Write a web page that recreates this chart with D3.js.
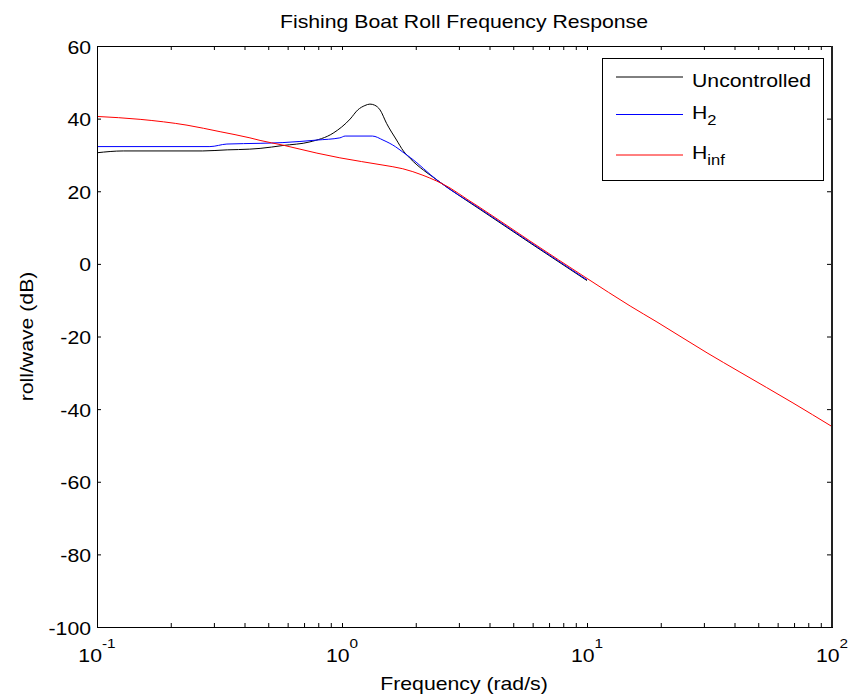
<!DOCTYPE html>
<html><head><meta charset="utf-8">
<script src="https://cdn.jsdelivr.net/npm/d3@7"></script>
<style>body{margin:0;background:#fff} text{font-family:"Liberation Sans",Arial,sans-serif;fill:#000}</style>
</head><body><svg id="c" width="850" height="697"></svg>
<script>
const title = "Fishing Boat Roll Frequency Response";
const xLabel = "Frequency (rad/s)";
const yLabel = "roll/wave (dB)";
const yTicks = [-100, -80, -60, -40, -20, 0, 20, 40, 60];
const xTickExponents = [-1, 0, 1, 2];

const uncFreq = [0.1, 0.128, 0.27, 0.34, 0.42, 0.463, 0.574, 0.74, 0.92, 1.08, 1.16, 1.24, 1.30, 1.36, 1.43, 1.52, 1.67, 1.78, 1.90, 2.44, 3.12, 3.66, 5.85, 10];
const uncDb   = [30.6, 31.1, 31.1, 31.4, 31.6, 31.8, 32.6, 33.6, 36.0, 39.9, 42.4, 43.6, 44.0, 43.7, 42.4, 38.7, 34.1, 31.1, 29.0, 23.1, 18.1, 15.0, 5.8, -4.6];

const h2Freq = [0.1, 0.289, 0.339, 0.463, 0.574, 0.79, 0.98, 1.03, 1.33, 1.47, 1.65, 1.77, 1.90, 2.44, 3.66, 5.85, 10];
const h2Db   = [32.3, 32.3, 33.0, 33.2, 33.4, 34.1, 34.7, 35.2, 35.2, 34.1, 32.3, 30.8, 29.3, 23.1, 15.2, 6.0, -4.4];

const hinfFreq = [0.1, 0.15, 0.233, 0.318, 0.421, 0.463, 0.574, 0.79, 0.98, 1.47, 1.77, 2.14, 2.76, 3.24, 3.66, 5.85, 10, 15, 19.3, 30.9, 42.1, 69.3, 100];
const hinfDb   = [40.6, 39.8, 38.2, 36.4, 34.7, 34.0, 32.7, 30.5, 29.2, 27.2, 26.2, 24.4, 20.9, 17.8, 15.5, 6.3, -4.0, -11.6, -16.0, -24.5, -29.8, -38.3, -44.8];

const seriesBase = ["Uncontrolled", "H", "H"];
const seriesSub  = ["", "2", "inf"];
const seriesColor = ["#000000", "#0000ff", "#ff0000"];

const SX = 1.18;
const svg = d3.select("#c");
const L = 97, R = 832, T = 46, B = 627;
const x = d3.scaleLog().domain([0.1, 100]).range([L, R]);
const y = d3.scaleLinear().domain([-100, 60]).range([B, T]);

function label(x0, y0, anchor, rot) {
  const g = svg.append("g").attr("transform", `translate(${x0},${y0})` + (rot ? ` rotate(${rot})` : "") + ` scale(${SX},1)`);
  return g.append("text").attr("text-anchor", anchor).style("font-size", "18px");
}

// data series
const series = [[uncFreq, uncDb], [h2Freq, h2Db], [hinfFreq, hinfDb]];
const line = d3.line().x(d => x(d[0])).y(d => y(d[1])).curve(d3.curveMonotoneX);
series.forEach((s, i) => {
  const pts = s[0].map((f, j) => [f, s[1][j]]);
  svg.append("path").datum(pts).attr("d", line).attr("fill", "none")
    .attr("stroke", seriesColor[i]).attr("stroke-width", 1);
});

// ticks
const xTickVals = [];
[-1, 0, 1].forEach(e => { for (let k = 1; k <= 9; k++) xTickVals.push(k * Math.pow(10, e)); });
xTickVals.push(100);
function styleAxis(g) { g.select(".domain").remove(); g.selectAll("line").attr("stroke", "#000"); g.selectAll("text").remove(); }
svg.append("g").attr("transform", `translate(0,${B})`).call(d3.axisBottom(x).tickValues(xTickVals).tickSize(-4).tickFormat("")).call(styleAxis);
svg.append("g").attr("transform", `translate(0,${T})`).call(d3.axisTop(x).tickValues(xTickVals).tickSize(-4).tickFormat("")).call(styleAxis);
svg.append("g").attr("transform", `translate(${L},0)`).call(d3.axisLeft(y).tickValues(yTicks).tickSize(-4).tickFormat("")).call(styleAxis);
svg.append("g").attr("transform", `translate(${R},0)`).call(d3.axisRight(y).tickValues(yTicks).tickSize(-5).tickFormat("")).call(styleAxis);

// box
svg.append("rect").attr("x", L).attr("y", T).attr("width", R - L).attr("height", B - T)
  .attr("fill", "none").attr("stroke", "#000").attr("stroke-width", 1).attr("shape-rendering", "crispEdges");
svg.append("line").attr("x1", R).attr("x2", R).attr("y1", T).attr("y2", B).attr("stroke", "#222").attr("stroke-width", 2);

// tick labels
yTicks.forEach(v => { label(91, y(v) + 7.5, "end").text(String(v)); });
xTickExponents.forEach(e => {
  const t = label(x(Math.pow(10, e)), 662, "middle");
  t.append("tspan").text("10");
  t.append("tspan").attr("dy", -14).style("font-size", "13px").text(String(e));
});

// titles
label(464, 28, "middle").text(title);
label(464, 690, "middle").text(xLabel);
label(33, (T + B) / 2, "middle", -90).text(yLabel);

// legend
const LX = 602, LY = 58, LW = 221, LH = 122;
svg.append("rect").attr("x", LX).attr("y", LY).attr("width", LW).attr("height", LH)
  .attr("fill", "#fff").attr("stroke", "#000").attr("stroke-width", 1).attr("shape-rendering", "crispEdges");
const rowY = [77, 114.5, 155];
seriesBase.forEach((b, i) => {
  svg.append("line").attr("x1", 616).attr("x2", 683).attr("y1", rowY[i]).attr("y2", rowY[i])
    .attr("stroke", seriesColor[i]).attr("stroke-width", 1);
  const t = label(692, rowY[i] + (seriesSub[i] ? 4 : 10), "start");
  t.append("tspan").text(b);
  if (seriesSub[i]) t.append("tspan").attr("dy", 6).style("font-size", "14px").text(seriesSub[i]);
});
</script></body></html>
